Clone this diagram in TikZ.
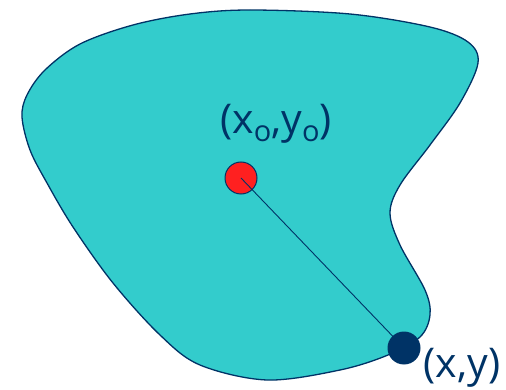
\documentclass[tikz,border=0pt]{standalone}
\usepackage{fontspec}
\setmainfont{Open Sans}
\definecolor{teal1}{HTML}{33CCCC}
\definecolor{navy1}{HTML}{003366}
\definecolor{red1}{HTML}{FF2020}
\begin{document}
\begin{tikzpicture}[x=1pt,y=-1pt,
  outline/.style={draw=navy1,line width=1.3pt},
  lbl/.style={text=navy1,font=\fontsize{41}{48}\selectfont,inner sep=0pt}]
\useasboundingbox (0,0) rectangle (506,390);
\filldraw[outline,fill=teal1] plot[smooth cycle,tension=0.55] coordinates {
  (22,117) (30,150) (47,183) (73,227) (113,283) (160,335) (200,365) (267,380)
  (340,370) (388,355) (420,337) (430,315) (425,290) (400,245) (390,213)
  (400,185) (430,145) (460,103) (478,63) (468,42) (430,27) (350,14)
  (250,10) (190,14) (133,25) (80,44) (45,70) (27,95)};
\node[circle,fill=red1,draw=navy1,line width=1pt,minimum size=32pt,inner sep=0pt] (c0) at (241,178) {};
\node[circle,fill=navy1,minimum size=33pt,inner sep=0pt] (p) at (404,348) {};
\draw[navy1,line width=0.9pt] (c0.center) -- (p.center);
\node[lbl] (l0) at (276,124) {(x\raisebox{-0.18em}{\fontsize{29}{30}\selectfont o},y\raisebox{-0.18em}{\fontsize{29}{30}\selectfont o})};
\node[lbl] (l1) at (462,368) {(x,y)};
\end{tikzpicture}
\end{document}
